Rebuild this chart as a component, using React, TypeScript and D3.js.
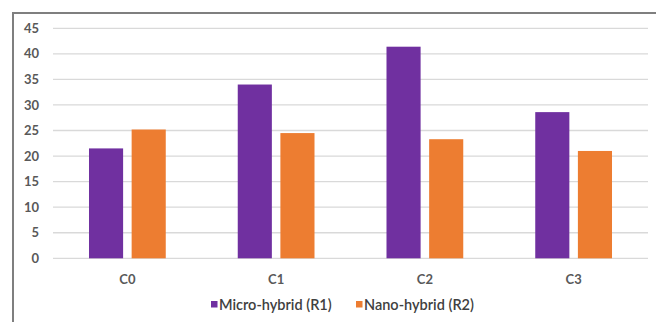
import React from "react";
import * as d3 from "d3";

const categories = ["C0", "C1", "C2", "C3"];
const seriesNames = ["Micro-hybrid (R1)", "Nano-hybrid (R2)"];
const microHybrid = [21.5, 34.0, 41.4, 28.6];
const nanoHybrid = [25.2, 24.5, 23.3, 21.0];
const yTicks = [0, 5, 10, 15, 20, 25, 30, 35, 40, 45];
const colors = ["#7030a0", "#ed7d31"];

const W = 656;
const H = 322;

export default function App() {
  const plotLeft = 53;
  const plotRight = 648;
  const y = d3.scaleLinear().domain([0, 45]).range([258.3, 28.3]);
  const x0 = d3.scaleBand<string>().domain(categories).range([plotLeft, plotRight]).padding(0);
  const bw = x0.bandwidth();
  const x1 = d3
    .scaleBand<string>()
    .domain(seriesNames)
    .range([bw * 0.242, bw * 0.758])
    .paddingInner(0.2)
    .paddingOuter(0);
  const values = [microHybrid, nanoHybrid];
  const font = "Lato, 'Open Sans', sans-serif";
  const labelColor = "#595959";

  return (
    <svg width={W} height={H} style={{ position: "absolute", left: 0, top: 0 }} fontFamily={font}>
      <rect width={W} height={H} fill="#fff" />
      <line x1={13} y1={13} x2={W} y2={13} stroke="#7f7f7f" strokeWidth={2} />
      <line x1={13} y1={12} x2={13} y2={H} stroke="#7f7f7f" strokeWidth={2} />
      {yTicks.map((t) => (
        <g key={t}>
          <line x1={plotLeft} x2={plotRight} y1={y(t)} y2={y(t)} stroke="#d9d9d9" strokeWidth={1.3} />
          <text x={39} y={y(t)} dy="0.35em" textAnchor="end" fontSize={13} fontWeight={700} fill={labelColor}>
            {t}
          </text>
        </g>
      ))}
      {categories.map((c, i) => (
        <g key={c} transform={`translate(${x0(c)},0)`}>
          {seriesNames.map((s, j) => (
            <rect
              key={s}
              x={x1(s)}
              y={y(values[j][i])}
              width={x1.bandwidth()}
              height={y(0) - y(values[j][i])}
              fill={colors[j]}
            />
          ))}
          <text x={bw / 2} y={279} dy="0.35em" textAnchor="middle" fontSize={13} fontWeight={700} fill={labelColor}>
            {c}
          </text>
        </g>
      ))}
      {seriesNames.map((s, j) => {
        const lx = j === 0 ? 211 : 356;
        return (
          <g key={s}>
            <rect x={lx} y={301} width={6.5} height={6.5} fill={colors[j]} />
            <text x={lx + 8} y={304.5} dy="0.35em" fontSize={14.5} fontWeight={600} fill="#404040">
              {s}
            </text>
          </g>
        );
      })}
    </svg>
  );
}
